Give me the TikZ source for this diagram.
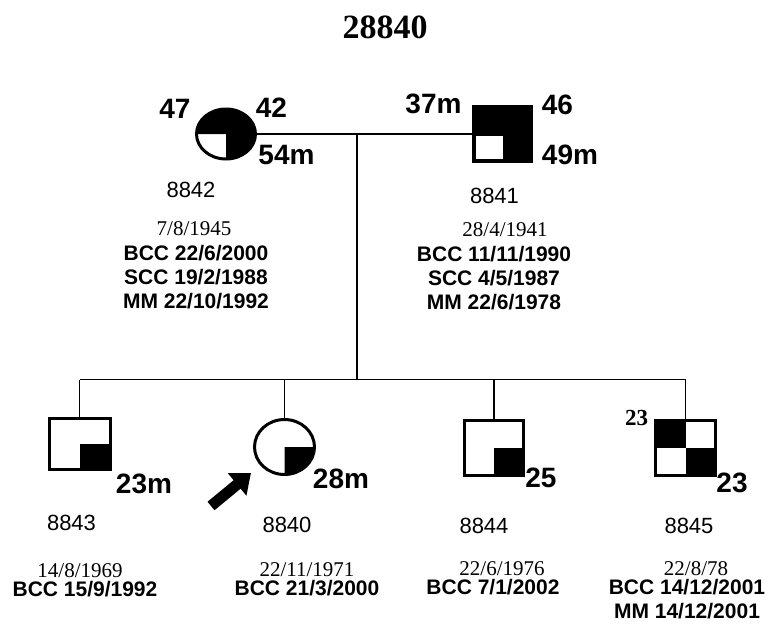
\documentclass[tikz,border=0pt]{standalone}
\usepackage{fontspec}
\setmainfont{Liberation Serif}
\setsansfont{Liberation Sans}
\usetikzlibrary{positioning,shapes.geometric,arrows.meta}

\begin{document}
\begin{tikzpicture}[x=1pt,y=1pt,line width=1.5pt,
  female/.style={draw,ellipse,line width=3pt,inner sep=0pt},
  male/.style={draw,rectangle,line width=3pt,inner sep=0pt},
  age/.style={font=\sffamily\bfseries\fontsize{28}{28}\selectfont,anchor=base,inner sep=0pt},
  idno/.style={font=\sffamily\fontsize{22}{22}\selectfont,anchor=base,inner sep=0pt},
  born/.style={font=\rmfamily\fontsize{21}{21}\selectfont,anchor=base,inner sep=0pt},
  dx/.style={font=\sffamily\bfseries\fontsize{21}{24}\selectfont,align=center,anchor=north,inner sep=0pt}]
  \useasboundingbox (0,0) rectangle (772,-627);

  \node[font=\rmfamily\bfseries\fontsize{34}{34}\selectfont,anchor=base,inner sep=0pt] (title) at (385,-38) {28840};

  % parents
  \node[female,minimum width=59pt,minimum height=50pt] (m8842) at (226,-134) {};
  \fill (m8842.center) -- ++(-29.5,0) arc[start angle=180,end angle=-90,x radius=29.5,y radius=25] -- cycle;
  \node[male,fill,minimum width=58pt,minimum height=55pt] (f8841) at (502.5,-134) {};
  \fill[white] ([shift={(-26.5,-1.5)}]f8841.center) rectangle ([shift={(0.5,-25)}]f8841.center);

  \draw (m8842.east) -- (f8841.west);
  \coordinate (mate) at (357,-134);
  \coordinate (sib) at (357,-379.5);
  \draw (mate) -- (sib);

  \node[age] (a47) at (175,-118) {47};
  \node[age] (a42) at (271.5,-117) {42};
  \node[age] (a54m) at (286.5,-164) {54m};
  \node[age] (a37m) at (433.5,-113) {37m};
  \node[age] (a46) at (557.5,-114) {46};
  \node[age] (a49m) at (570,-164) {49m};

  \node[idno] (id8842) at (191,-197) {8842};
  \node[born] (b8842) at (194,-235) {7/8/1945};
  \node[dx] (h8842) at (196,-245) {BCC 22/6/2000\\SCC 19/2/1988\\MM 22/10/1992};

  \node[idno] (id8841) at (494.5,-203) {8841};
  \node[born] (b8841) at (505,-236) {28/4/1941};
  \node[dx] (h8841) at (494,-246) {BCC 11/11/1990\\SCC 4/5/1987\\MM 22/6/1978};

  % children
  \node[male,minimum width=61pt,minimum height=51pt] (c8843) at (79.5,-444) {};
  \fill (c8843.center) rectangle (c8843.south east);
  \node[female,minimum width=60pt,minimum height=55pt] (c8840) at (284.5,-447) {};
  \fill (c8840.center) -- ++(30,0) arc[start angle=0,end angle=-90,x radius=30,y radius=27.5] -- cycle;
  \node[male,minimum width=59pt,minimum height=55pt] (c8844) at (494,-448) {};
  \fill (c8844.center) rectangle (c8844.south east);
  \node[male,minimum width=60pt,minimum height=55pt] (c8845) at (685.5,-448) {};
  \fill (c8845.center) rectangle (c8845.south east);
  \fill (c8845.center) rectangle (c8845.north west);

  \draw (c8843.north |- sib) -- (c8845.north |- sib);
  \foreach \kid in {c8843,c8840,c8844,c8845}
    \draw (\kid.north) -- (\kid.north |- sib);

  % proband arrow
  \coordinate (ptail) at (211,-506);
  \coordinate (ptip) at (251,-473);
  \draw[line width=11pt,-{Triangle[width=28pt,length=18pt]}] (ptail) -- (ptip);

  \node[age] (a23m) at (144,-493) {23m};
  \node[age] (a28m) at (341,-488) {28m};
  \node[age] (a25) at (541,-487) {25};
  \node[font=\rmfamily\bfseries\fontsize{23}{23}\selectfont,anchor=base,inner sep=0pt] (a23t) at (636.5,-425) {23};
  \node[age] (a23b) at (732,-492) {23};

  \node[idno] (id8843) at (71.5,-530) {8843};
  \node[born] (b8843) at (80,-577) {14/8/1969};
  \node[dx] (h8843) at (85,-581) {BCC 15/9/1992};

  \node[idno] (id8840) at (287,-532) {8840};
  \node[born] (b8840) at (307,-576) {22/11/1971};
  \node[dx] (h8840) at (307,-580) {BCC 21/3/2000};

  \node[idno] (id8844) at (484,-533) {8844};
  \node[born] (b8844) at (502,-575) {22/6/1976};
  \node[dx] (h8844) at (493,-579) {BCC 7/1/2002};

  \node[idno] (id8845) at (689,-533) {8845};
  \node[born] (b8845) at (696,-575) {22/8/78};
  \node[dx] (h8845) at (687,-579) {BCC 14/12/2001\\MM 14/12/2001};
\end{tikzpicture}
\end{document}
